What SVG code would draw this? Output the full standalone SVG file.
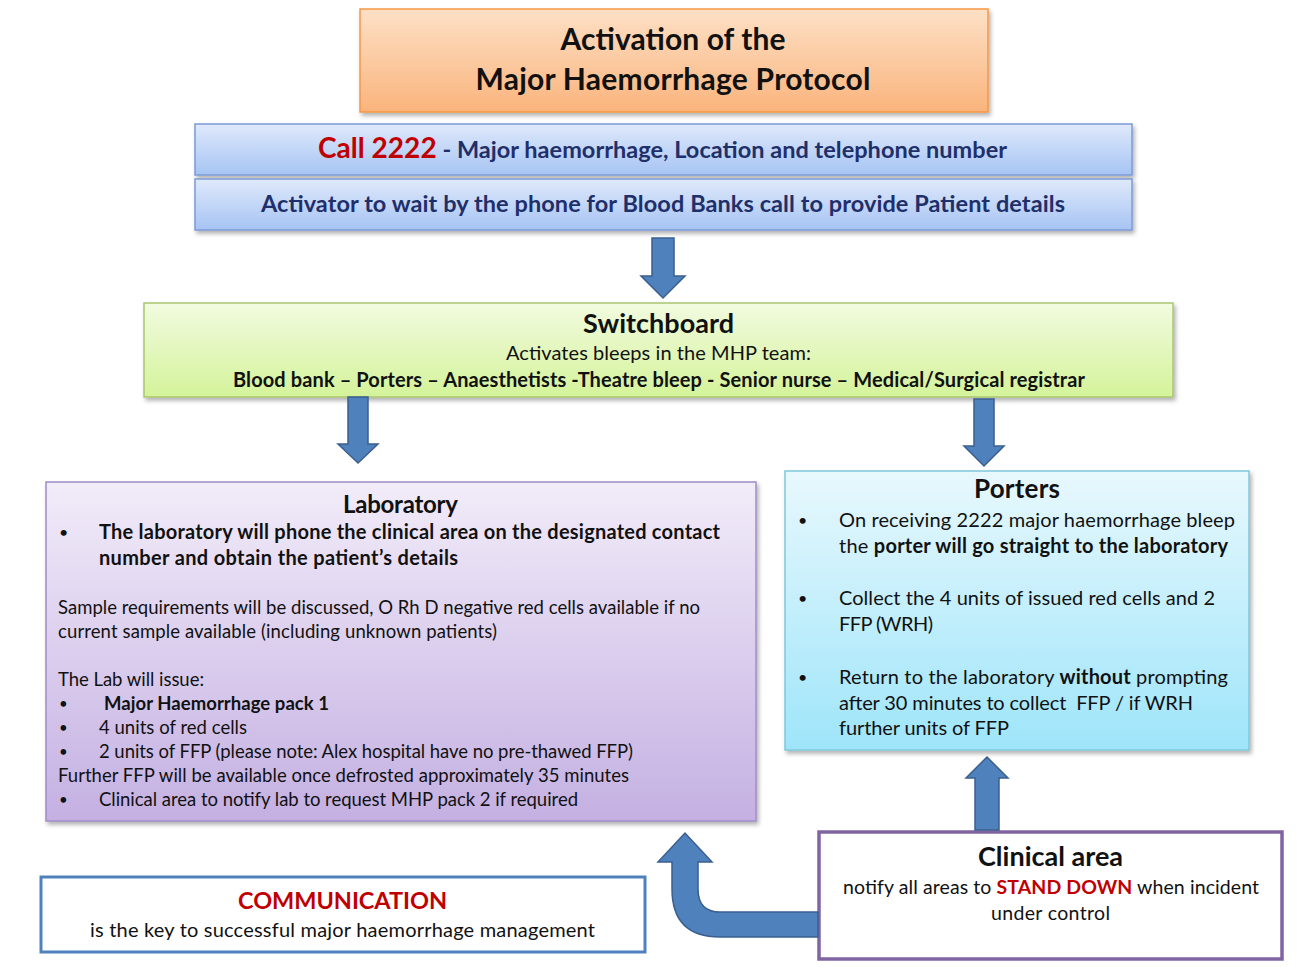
<svg xmlns="http://www.w3.org/2000/svg" width="1316" height="967" viewBox="0 0 1316 967">
<defs>
<linearGradient id="gOrange" x1="0" y1="0" x2="0" y2="1"><stop offset="0" stop-color="#fde0c6"/><stop offset="1" stop-color="#fab47c"/></linearGradient>
<linearGradient id="gBlue" x1="0" y1="0" x2="0" y2="1"><stop offset="0" stop-color="#dfe9fb"/><stop offset="1" stop-color="#a6c4f3"/></linearGradient>
<linearGradient id="gGreen" x1="0" y1="0" x2="0" y2="1"><stop offset="0" stop-color="#f2fbe0"/><stop offset="1" stop-color="#d4f39a"/></linearGradient>
<linearGradient id="gPurple" x1="0" y1="0" x2="0" y2="1"><stop offset="0" stop-color="#f2ecf9"/><stop offset="1" stop-color="#c4b0e2"/></linearGradient>
<linearGradient id="gCyan" x1="0" y1="0" x2="0" y2="1"><stop offset="0" stop-color="#e8f8fd"/><stop offset="1" stop-color="#9ee5fa"/></linearGradient>
<filter id="sh" x="-5%" y="-5%" width="110%" height="120%"><feDropShadow dx="2" dy="3" stdDeviation="2" flood-color="#000" flood-opacity="0.3"/></filter>
</defs>
<style>
text{font-family:"Lato","Open Sans","Liberation Sans",sans-serif;fill:#111}
.b{font-weight:bold}
.c{text-anchor:middle}
.navy{fill:#1f2f6a}
.red{fill:#c00000}
.arrow{fill:#4f81bd;stroke:#3a5f8f;stroke-width:1.5}
</style>

<g id="title">
<rect x="360" y="9" width="628" height="103" fill="url(#gOrange)" stroke="#f79646" stroke-width="1.5" filter="url(#sh)"/>
<text class="b c" x="673" y="50" font-size="30" textLength="225">Activation of the</text>
<text class="b c" x="673" y="90" font-size="30" textLength="395">Major Haemorrhage Protocol</text>
</g>

<g id="call">
<rect x="195" y="124" width="937" height="51" fill="url(#gBlue)" stroke="#7b9bd6" stroke-width="1.5" filter="url(#sh)"/>
<text class="c" x="662.5" y="158" font-size="23.5" textLength="689"><tspan class="b red" font-size="28">Call 2222</tspan><tspan class="b navy"> - Major haemorrhage, Location and telephone number</tspan></text>
</g>

<g id="activator">
<rect x="195" y="179" width="937" height="51" fill="url(#gBlue)" stroke="#7b9bd6" stroke-width="1.5" filter="url(#sh)"/>
<text class="b c navy" x="663" y="212" font-size="23.5" textLength="804">Activator to wait by the phone for Blood Banks call to provide Patient details</text>
</g>

<g id="switchboard">
<rect x="144" y="303" width="1029" height="94" fill="url(#gGreen)" stroke="#a9c66e" stroke-width="1.5" filter="url(#sh)"/>
<text class="b c" x="658.5" y="333" font-size="27" textLength="151">Switchboard</text>
<text class="c" x="658.5" y="360" font-size="20" textLength="305">Activates bleeps in the MHP team:</text>
<text class="b c" x="659" y="387" font-size="20" textLength="852">Blood bank – Porters – Anaesthetists -Theatre bleep - Senior nurse – Medical/Surgical registrar</text>
</g>

<g id="laboratory">
<rect x="46" y="482" width="710" height="339" fill="url(#gPurple)" stroke="#a08cc8" stroke-width="1.5" filter="url(#sh)"/>
<text class="b c" x="400.5" y="513" font-size="24" textLength="115">Laboratory</text>
<text x="59" y="538" font-size="16">•</text>
<text class="b" x="99" y="539" font-size="20" textLength="621">The laboratory will phone the clinical area on the designated contact</text>
<text class="b" x="99" y="565" font-size="20" textLength="359">number and obtain the patient’s details</text>
<text x="58" y="614" font-size="18.5" textLength="642">Sample requirements will be discussed, O Rh D negative red cells available if no</text>
<text x="58" y="638" font-size="18.5" textLength="439">current sample available (including unknown patients)</text>
<text x="58" y="686" font-size="18.5" textLength="146">The Lab will issue:</text>
<text x="59" y="709" font-size="15">•</text>
<text class="b" x="104" y="710" font-size="18.5" textLength="225">Major Haemorrhage pack 1</text>
<text x="59" y="733" font-size="15">•</text>
<text x="99" y="734" font-size="18.5" textLength="148">4 units of red cells</text>
<text x="59" y="757" font-size="15">•</text>
<text x="99" y="758" font-size="18.5" textLength="534">2 units of FFP (please note: Alex hospital have no pre-thawed FFP)</text>
<text x="58" y="782" font-size="18.5" textLength="571">Further FFP will be available once defrosted approximately 35 minutes</text>
<text x="59" y="805" font-size="15">•</text>
<text x="99" y="806" font-size="18.5" textLength="479">Clinical area to notify lab to request MHP pack 2 if required</text>
</g>

<g id="porters">
<rect x="785" y="471" width="464" height="279" fill="url(#gCyan)" stroke="#7fc8dc" stroke-width="1.5" filter="url(#sh)"/>
<text class="b c" x="1017" y="498" font-size="26" textLength="86">Porters</text>
<text x="798" y="526" font-size="16">•</text>
<text x="839" y="527" font-size="20" textLength="396">On receiving 2222 major haemorrhage bleep</text>
<text x="839" y="553" font-size="20" textLength="389">the <tspan class="b">porter will go straight to the laboratory</tspan></text>
<text x="798" y="604" font-size="16">•</text>
<text x="839" y="605" font-size="20" textLength="376">Collect the 4 units of issued red cells and 2</text>
<text x="839" y="631" font-size="20" textLength="94">FFP (WRH)</text>
<text x="798" y="683" font-size="16">•</text>
<text x="839" y="684" font-size="20" textLength="389">Return to the laboratory <tspan class="b">without</tspan> prompting</text>
<text x="839" y="710" font-size="20" textLength="354" xml:space="preserve">after 30 minutes to collect  FFP / if WRH</text>
<text x="839" y="735" font-size="20" textLength="170">further units of FFP</text>
</g>

<g id="clinical">
<rect x="819" y="832" width="463" height="127" fill="#fff" stroke="#8064a2" stroke-width="3.5"/>
<text class="b c" x="1050.5" y="866" font-size="27" textLength="145">Clinical area</text>
<text class="c" x="1051" y="894" font-size="19.5" textLength="416">notify all areas to <tspan class="b red">STAND DOWN</tspan> when incident</text>
<text class="c" x="1050.5" y="920" font-size="19.5" textLength="119">under control</text>
</g>

<g id="communication">
<rect x="41" y="877" width="604" height="75" fill="#fff" stroke="#4f81bd" stroke-width="3"/>
<text class="b c red" x="342.5" y="909" font-size="23.5" textLength="209">COMMUNICATION</text>
<text class="c" x="342.5" y="937" font-size="20" textLength="505">is the key to successful major haemorrhage management</text>
</g>

<g id="connectors">
<path class="arrow" d="M652,238 H674 V276 H685 L663,298 L641,276 H652 Z"/>
<path class="arrow" d="M348,397 H368 V444 H378 L358,463 L338,444 H348 Z"/>
<path class="arrow" d="M974,399 H994 V446 H1004 L984,466 L964,446 H974 Z"/>
<path class="arrow" d="M975,830 V778 H966 L987,757 L1008,778 H999 V830 Z"/>
<path class="arrow" d="M818,912 V937 H720 Q672,937 672,889 V862 H658 L685,833 L712,862 H698 V889 Q698,912 720,912 Z"/>
</g>
</svg>
